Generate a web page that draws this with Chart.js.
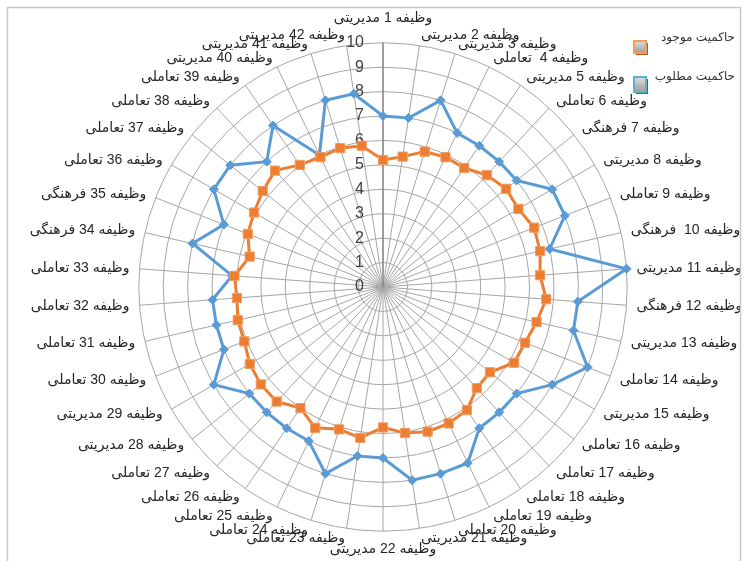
<!DOCTYPE html>
<html lang="fa">
<head>
<meta charset="utf-8">
<script src="https://cdn.jsdelivr.net/npm/chart.js@4.4.1/dist/chart.umd.min.js"></script>
<style>
  html, body { margin: 0; padding: 0; background: #fff; }
</style>
</head>
<body>
<canvas id="myChart" width="747" height="561"></canvas>
<script>
const labels = [
  "وظیفه 1 مدیریتی", "وظیفه 2 مدیریتی", "وظیفه 3 مدیریتی", "وظیفه 4  تعاملی",
  "وظیفه 5 مدیریتی", "وظیفه 6 تعاملی", "وظیفه 7 فرهنگی", "وظیفه 8 مدیریتی",
  "وظیفه 9 تعاملی", "وظیفه 10  فرهنگی", "وظیفه 11 مدیریتی", "وظیفه 12 فرهنگی",
  "وظیفه 13 مدیریتی", "وظیفه 14 تعاملی", "وظیفه 15 مدیریتی", "وظیفه 16 تعاملی",
  "وظیفه 17 تعاملی", "وظیفه 18 تعاملی", "وظیفه 19 تعاملی", "وظیفه 20 تعاملی",
  "وظیفه 21 مدیریتی", "وظیفه 22 مدیریتی", "وظیفه 23 تعاملی", "وظیفه 24 تعاملی",
  "وظیفه 25 تعاملی", "وظیفه 26 تعاملی", "وظیفه 27 تعاملی", "وظیفه 28 مدیریتی",
  "وظیفه 29 مدیریتی", "وظیفه 30 تعاملی", "وظیفه 31 تعاملی", "وظیفه 32 تعاملی",
  "وظیفه 33 تعاملی", "وظیفه 34 فرهنگی", "وظیفه 35 فرهنگی", "وظیفه 36 تعاملی",
  "وظیفه 37 تعاملی", "وظیفه 38 تعاملی", "وظیفه 39 تعاملی", "وظیفه 40 مدیریتی",
  "وظیفه 41 مدیریتی", "وظیفه 42 مدیریتی"
];

// حاکمیت موجود
const current = [
  5.2, 5.4, 5.8, 5.9, 5.9, 6.25, 6.45, 6.4, 6.65, 6.6,
  6.45, 6.7, 6.45, 6.25, 6.2, 5.6, 5.65, 6.1, 6.2, 6.2,
  6.05, 5.75, 6.25, 6.1, 6.4, 6.0, 6.4, 6.4, 6.3, 6.1,
  6.1, 6.0, 6.1, 5.6, 5.95, 6.1, 6.3, 6.5, 6.05, 5.9,
  5.95, 5.85
];

// حاکمیت مطلوب
const desired = [
  7, 7, 8, 7, 7, 7, 7, 8, 8, 7,
  10, 8, 8, 9, 8, 7, 7, 7, 8, 8,
  8, 7, 7, 8, 7, 7, 7, 7, 8, 7,
  7, 7, 6.2, 8, 7, 8, 8, 7, 8, 6,
  8, 8
];

const seriesNames = ["حاکمیت موجود", "حاکمیت مطلوب"];
const tickValues = [0, 1, 2, 3, 4, 5, 6, 7, 8, 9, 10];

const FONT = '"Liberation Sans", Arial, "DejaVu Sans", sans-serif';

// value labels on the left of the vertical axis, 0 included
const tickLabels = {
  id: "tickLabels",
  beforeDatasetsDraw(chart) {
    const r = chart.scales.r;
    const ctx = chart.ctx;
    ctx.save();
    ctx.font = "16px " + FONT;
    ctx.fillStyle = "#404040";
    ctx.textAlign = "right";
    ctx.textBaseline = "middle";
    tickValues.forEach((v) => {
      const d = r.getDistanceFromCenterForValue(v);
      ctx.fillText(String(v), r.xCenter - 19, r.yCenter - d);
    });
    ctx.restore();
  },
};

// excel-like legend top right + outer frame
const sideLegend = {
  id: "sideLegend",
  afterDraw(chart) {
    const ctx = chart.ctx;
    ctx.save();
    ctx.strokeStyle = "#c8c8c8";
    ctx.lineWidth = 1.5;
    ctx.strokeRect(7.5, 7.5, 733, 600);

    const boxes = [
      { x: 634, y: 41, w: 12, h: 12, edge: "#f39a5c", shadow: "#b85a1c" },
      { x: 634, y: 77, w: 12, h: 15, edge: "#5bb2cc", shadow: "#2f6f86" },
    ];
    const textY = [38, 77];
    boxes.forEach((b, i) => {
      ctx.fillStyle = b.shadow;
      ctx.fillRect(b.x + 2, b.y + 2, b.w, b.h);
      const g = ctx.createLinearGradient(0, b.y, 0, b.y + b.h);
      g.addColorStop(0, "#dedede");
      g.addColorStop(1, "#9d9d9d");
      ctx.fillStyle = g;
      ctx.fillRect(b.x, b.y, b.w, b.h);
      ctx.strokeStyle = b.edge;
      ctx.lineWidth = 2;
      ctx.strokeRect(b.x, b.y, b.w, b.h);

      ctx.fillStyle = "#333";
      ctx.font = "12px " + FONT;
      ctx.textAlign = "right";
      ctx.textBaseline = "middle";
      ctx.fillText(seriesNames[i], 735, textY[i]);
    });
    ctx.restore();
  },
};

// side labels: centre them vertically on their spoke, like excel does
function centreSideLabels(scale) {
  const items = scale._pointLabelItems || [];
  const n = items.length;
  items.forEach((item, i) => {
    const a = Math.round((i * 360) / n);
    if (a === 0 || a === 90 || a === 180 || a === 270) return;
    const h = item.bottom - item.top;
    const dy = a < 90 || a > 270 ? h / 2 : -h / 2;
    item.y += dy;
    item.top += dy;
    item.bottom += dy;
  });
}

const ctx = document.getElementById("myChart");

const myChart = new Chart(ctx, {
  type: "radar",
  data: {
    labels: labels,
    datasets: [
      {
        label: seriesNames[0],
        data: current,
        borderColor: "#ED7D31",
        backgroundColor: "#ED7D31",
        borderWidth: 3,
        fill: false,
        pointStyle: "rect",
        pointRadius: 6.5,
        pointBackgroundColor: "#ED7D31",
        pointBorderColor: "#f29d64",
        pointBorderWidth: 1,
      },
      {
        label: seriesNames[1],
        data: desired,
        borderColor: "#5B9BD5",
        backgroundColor: "#5B9BD5",
        borderWidth: 3,
        fill: false,
        pointStyle: "rectRot",
        pointRadius: 4.5,
        pointBackgroundColor: "#5B9BD5",
        pointBorderColor: "#5B9BD5",
        pointBorderWidth: 1,
      },
    ],
  },
  options: {
    responsive: false,
    animation: false,
    devicePixelRatio: 1,
    layout: { padding: { top: 7, bottom: 0, left: 25, right: 0 } },
    elements: { line: { tension: 0 } },
    plugins: {
      legend: { display: false },
      tooltip: { enabled: false },
    },
    scales: {
      r: {
        min: 0,
        max: 10,
        afterFit: centreSideLabels,
        ticks: { stepSize: 1, display: false },
        grid: { circular: true, color: "#a6a6a6", lineWidth: 1 },
        angleLines: {
          color: (c) => (c.index === 0 ? "#868686" : "#a6a6a6"),
          lineWidth: (c) => (c.index === 0 ? 1.6 : 1),
        },
        pointLabels: {
          color: "#262626",
          font: { family: FONT, size: 14 },
          padding: (c) => (c.index === 0 ? 16 : 10),
        },
      },
    },
  },
  plugins: [tickLabels, sideLegend],
});
</script>
</body>
</html>
